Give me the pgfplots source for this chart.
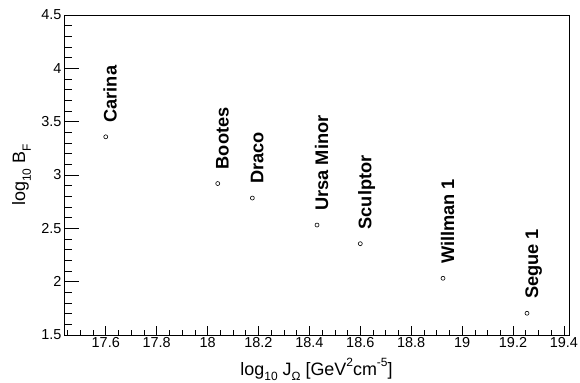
\documentclass[border=0pt]{standalone}
\usepackage{pgfplots}
\pgfplotsset{compat=1.18}
\usepackage{fontspec}
\setmainfont{Liberation Sans}
\newcommand{\rsub}[1]{\raisebox{-0.33em}{\fontsize{12}{12}\selectfont #1}}
\newcommand{\rsup}[1]{\raisebox{0.45em}{\fontsize{12}{12}\selectfont #1}}
\begin{document}
\begin{tikzpicture}
\useasboundingbox (0,0) rectangle (580bp,383bp);
\pgfplotsset{common/.style={
  at={(64bp,48bp)}, anchor=south west, scale only axis,
  width=505bp, height=320bp,
  xmin=17.436, xmax=19.42, ymin=1.5, ymax=4.5, clip=false,
  /pgf/number format/assume math mode=true, scaled ticks=false,
  tick align=inside,
  tick style={black, line width=0.6bp},
  ticklabel style={font=\fontsize{14.5}{14.5}\selectfont},
}}
% y axis ticks (longer ticks)
\begin{axis}[common,
  axis line style={draw=none},
  xtick=\empty,
  ytick={1.5,2,2.5,3,3.5,4,4.5},
  minor ytick={1.6,1.7,1.8,1.9,2.1,2.2,2.3,2.4,2.6,2.7,2.8,2.9,3.1,3.2,3.3,3.4,3.6,3.7,3.8,3.9,4.1,4.2,4.3,4.4},
  ytick pos=left,
  major tick length=15bp, minor tick length=7.5bp,
  yticklabel style={xshift=1bp},
  every axis y label/.style={at={(axis description cs:-0.0772,0.5)}, anchor=base, rotate=90, font=\fontsize{18}{18}\selectfont},
  ylabel={log\rsub{10} B\rsub{F}},
]
\end{axis}
% x axis ticks, frame and data
\begin{axis}[common,
  axis line style={black, line width=0.8bp},
  ytick=\empty,
  xtick={17.6,17.8,18,18.2,18.4,18.6,18.8,19,19.2,19.4},
  minor xtick={17.45,17.5,17.55,17.65,17.7,17.75,17.85,17.9,17.95,18.05,18.1,18.15,18.25,18.3,18.35,18.45,18.5,18.55,18.65,18.7,18.75,18.85,18.9,18.95,19.05,19.1,19.15,19.25,19.3,19.35},
  xtick pos=left,
  major tick length=9bp, minor tick length=4.5bp,
  xticklabel style={yshift=1bp},
  every axis x label/.style={at={(axis description cs:0.5,-0.125)}, anchor=base, font=\fontsize{18}{18}\selectfont},
  xlabel={log\rsub{10} J\rsub{Ω} [GeV\rsup{2}cm\rsup{-5}]},
]
\addplot[only marks, mark=o, mark size=2bp, black, mark options={line width=0.6bp},
  point meta=explicit symbolic, nodes near coords,
  nodes near coords style={shift={(11bp,10.7bp)}, rotate=90, anchor=base west,
    font=\bfseries\fontsize{18.3}{18.3}\selectfont, text=black}]
  table[col sep=comma, meta=label] {
x,y,label
17.600,3.358,Carina
18.040,2.920,Bootes
18.176,2.784,Draco
18.430,2.531,Ursa Minor
18.600,2.356,Sculptor
18.925,2.032,Willman 1
19.255,1.704,Segue 1
};
\end{axis}
\end{tikzpicture}
\end{document}
